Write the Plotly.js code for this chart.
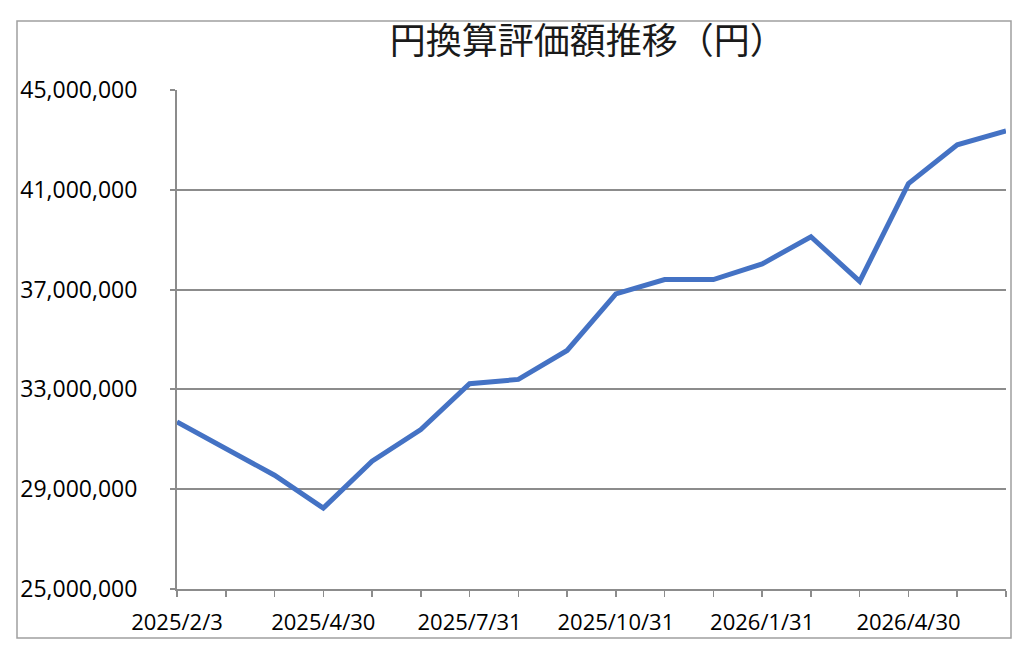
<!DOCTYPE html>
<html>
<head>
<meta charset="utf-8">
<script src="https://cdn.plot.ly/plotly-3.0.1.min.js"></script>
<style>
html,body{margin:0;padding:0;background:#fff;}
#chart{width:1024px;height:652px;}
</style>
</head>
<body>
<div id="chart"></div>
<script>
const categories = ["2025/2/3","2025/2/28","2025/3/31","2025/4/30","2025/5/30","2025/6/30","2025/7/31","2025/8/29","2025/9/30","2025/10/31","2025/11/28","2025/12/30","2026/1/31","2026/2/27","2026/3/31","2026/4/30","2026/5/29","2026/6/30"];
const values = [31700000,30640000,29560000,28240000,30120000,31390000,33230000,33400000,34560000,36830000,37400000,37400000,38030000,39120000,37330000,41250000,42800000,43360000];
const labeledTicks = ["2025/2/3","2025/4/30","2025/7/31","2025/10/31","2026/1/31","2026/4/30"];
const titleText = "円換算評価額推移（円）";

const tickText = categories.map(c => labeledTicks.includes(c) ? c : "");

const trace = {
  x: categories,
  y: values,
  type: "scatter",
  mode: "lines",
  line: {color: "#4472C4", width: 5},
  hoverinfo: "x+y"
};

const layout = {
  width: 1024,
  height: 652,
  paper_bgcolor: "#ffffff",
  plot_bgcolor: "#ffffff",
  margin: {l: 177, r: 18, t: 90, b: 63},
  showlegend: false,
  title: {
    text: titleText,
    font: {family: "Noto Sans CJK JP", size: 36, color: "#1a1a1a"},
    x: 0.574, xref: "container", xanchor: "center",
    y: 0.936, yref: "container", yanchor: "middle"
  },
  xaxis: {
    type: "category",
    range: [0, categories.length - 1],
    tickmode: "array",
    tickvals: categories,
    ticktext: tickText,
    ticks: "outside",
    ticklen: 6,
    tickwidth: 1.5,
    tickcolor: "#8c8c8c",
    showline: true,
    linecolor: "#8c8c8c",
    linewidth: 2,
    showgrid: false,
    zeroline: false,
    tickangle: 0,
    ticklabelstandoff: 7,
    tickfont: {family: "Open Sans, Liberation Sans, sans-serif", size: 22, color: "#000"}
  },
  yaxis: {
    range: [25000000, 45000000],
    tick0: 25000000,
    dtick: 4000000,
    tickformat: ",d",
    ticks: "outside",
    ticklen: 5,
    tickwidth: 2,
    tickcolor: "#8c8c8c",
    showline: true,
    linecolor: "#8c8c8c",
    linewidth: 2,
    showgrid: true,
    gridcolor: "#8c8c8c",
    gridwidth: 2,
    zeroline: false,
    ticklabelstandoff: 28,
    tickfont: {family: "Open Sans, Liberation Sans, sans-serif", size: 23, color: "#000"}
  },
  shapes: [{
    type: "rect", xref: "paper", yref: "paper",
    x0: (17 - 177) / 829, x1: (1011 - 177) / 829,
    y0: (589 - 638) / 499, y1: (589 - 21) / 499,
    line: {color: "#a0a0a0", width: 1.5},
    fillcolor: "rgba(0,0,0,0)",
    layer: "below"
  }]
};

Plotly.newPlot("chart", [trace], layout, {displayModeBar: false, staticPlot: true});
</script>
</body>
</html>
